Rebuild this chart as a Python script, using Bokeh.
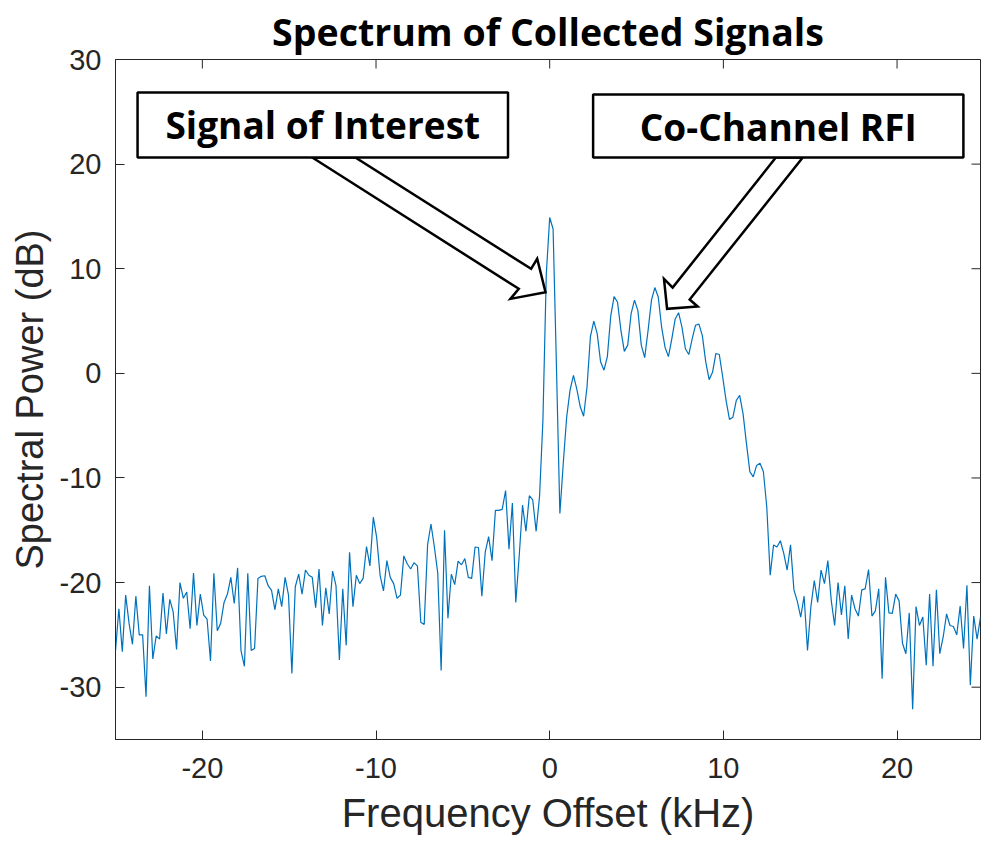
from bokeh.plotting import figure
from bokeh.models import Range1d, FixedTicker
from bokeh.embed import file_html
from bokeh.resources import INLINE
from bokeh.core.properties import value

# ---------------- data ----------------
f_start_khz = -25.0
f_step_khz = 50.0 / 256

power_db = [
    -26.5, -22.5, -26.6, -21.2, -23.9, -25.9, -21.3, -25.0, -25.0, -30.9,
    -20.3, -27.3, -25.1, -25.4, -21.0, -24.9, -21.6, -22.8, -26.4, -20.0,
    -21.5, -20.9, -24.4, -19.1, -24.1, -21.1, -23.1, -23.5, -27.5, -19.1,
    -24.6, -23.9, -21.9, -21.1, -19.5, -22.0, -18.6, -26.5, -28.0, -19.1,
    -26.5, -26.3, -19.6,
    -19.4, -19.35, -20.3, -20.75, -22.6, -20.6, -22.3, -19.5, -21.2, -28.7,
    -20.4, -19.2, -21.1, -18.8, -19.3, -19.5, -22.4, -18.7, -24.1, -20.5,
    -23.0, -18.9, -20.3, -27.4, -20.6, -26.0, -17.1, -22.3, -19.3, -20.1,
    -19.6, -16.55, -18.4, -13.75, -15.7, -19.3, -20.8, -17.9, -19.5, -20.1,
    -21.5, -21.2,
    -17.45, -18.2, -18.7, -18.1, -18.4, -23.8, -24.0, -16.4, -14.4, -16.6,
    -19.1, -28.4, -15.0, -23.4, -19.2, -20.2, -17.95, -18.3, -17.7, -19.5,
    -19.6, -16.6, -16.65, -21.3, -17.1, -15.6, -17.9, -13.1, -13.1, -13.0,
    -11.2, -16.8, -12.4, -21.9, -17.5, -12.6, -15.1, -11.7, -12.1, -15.1,
    -11.8, -4.5,
    9.5, 14.9, 13.8, 0.5, -13.4, -8.6, -4.2, -1.6, -0.2, -1.5,
    -3.2, -4.1, -1.3, 3.5, 5.0, 3.8, 1.1, 0.3, 1.6, 5.5,
    7.35, 6.8, 4.1, 2.1, 2.7, 5.7, 7.0, 6.0, 2.7, 1.5,
    4.1, 7.0, 8.2, 7.3, 4.4, 2.5, 1.6, 3.3, 5.2, 5.8,
    4.4,
    2.35, 1.8, 3.3, 4.6, 4.7, 3.6, 1.1, -0.6, 0.1, 1.9,
    1.8, -0.35, -2.6, -4.4, -4.2, -2.6, -2.1, -3.85, -6.7, -9.4,
    -9.9, -8.8, -8.6, -9.4, -12.8, -19.3, -16.4, -16.6, -16.0, -17.2,
    -18.8, -16.4, -20.7, -21.8, -23.3, -21.3, -26.5, -22.3, -19.8, -21.9,
    -18.8, -20.1,
    -17.9, -21.7, -24.1, -20.0, -23.1, -20.3, -25.4, -21.2, -22.5, -23.2,
    -20.7, -20.6, -18.75, -23.2, -22.7, -20.6, -29.2, -19.5, -22.9, -22.95,
    -21.1, -21.75, -25.8, -26.8, -22.9, -32.1, -22.3, -24.1, -23.3, -27.9,
    -21.1, -28.0, -20.7, -26.8, -25.2, -23.0, -24.1, -24.2, -25.0, -22.25,
    -26.3, -20.25, -29.8, -23.2, -25.4, -23.3,
]
freq_khz = [f_start_khz + i * f_step_khz for i in range(len(power_db))]

x_ticks = [-20, -10, 0, 10, 20]
x_tick_labels = ["-20", "-10", "0", "10", "20"]
y_ticks = [-30, -20, -10, 0, 10, 20, 30]
y_tick_labels = ["-30", "-20", "-10", "0", "10", "20", "30"]
y_min, y_max = -35, 30

title_text = "Spectrum of Collected Signals"
x_label = "Frequency Offset (kHz)"
y_label = "Spectral Power (dB)"

# annotations (data coordinates)
ann_texts = ["Signal of Interest", "Co-Channel RFI"]
box_left = [-23.73, 2.50]
box_right = [-2.40, 23.82]
box_top = [26.85, 26.65]
box_bottom = [20.63, 20.63]
arrow1_x = [-13.67, -1.78, -2.26, -0.24, -0.72, -1.07, -11.19]
arrow1_y = [20.63, 8.08, 7.12, 7.75, 10.95, 9.99, 20.63]
arrow2_x = [13.02, 7.08, 6.58, 6.76, 8.52, 8.06, 14.57]
arrow2_y = [20.63, 8.20, 9.03, 6.17, 6.39, 7.06, 20.63]

# ---------------- figure ----------------
axis_color = "#262626"
tick_font = "Liberation Sans"
frame_w, frame_h = 865, 680
tick_len_px = 9

x_lo, x_hi = f_start_khz, freq_khz[-1]
px_per_khz = frame_w / (x_hi - x_lo)
px_per_db = frame_h / (y_max - y_min)

p = figure(
    frame_width=frame_w, frame_height=frame_h,
    min_border_left=115, min_border_right=2, min_border_top=59, min_border_bottom=107,
    x_range=Range1d(x_lo, x_hi), y_range=Range1d(y_min, y_max),
    output_backend="svg", toolbar_location=None, title=title_text,
)
p.title.align = "center"
p.title.text_font = "Open Sans"
p.title.text_font_style = "bold"
p.title.text_font_size = "37.5px"
p.title.text_color = "black"
p.title.standoff = 6

p.xgrid.visible = False
p.ygrid.visible = False
p.outline_line_color = axis_color
p.outline_line_width = 1
p.background_fill_color = "white"
p.border_fill_color = "white"

for ax, ticks, labels in ((p.xaxis[0], x_ticks, x_tick_labels),
                          (p.yaxis[0], y_ticks, y_tick_labels)):
    ax.ticker = FixedTicker(ticks=ticks)
    ax.major_label_overrides = {t: l for t, l in zip(ticks, labels)}
    ax.axis_line_color = axis_color
    ax.axis_line_width = 1
    ax.major_tick_line_color = axis_color
    ax.major_tick_in = tick_len_px
    ax.major_tick_out = 0
    ax.minor_tick_line_color = None
    ax.major_label_text_color = axis_color
    ax.major_label_text_font = tick_font
    ax.major_label_text_font_size = "29px"
    ax.axis_label_text_font = tick_font
    ax.axis_label_text_font_style = "normal"
    ax.axis_label_text_color = axis_color

p.xaxis[0].major_label_standoff = 18
p.yaxis[0].major_label_standoff = 14
p.xaxis[0].axis_label = x_label
p.yaxis[0].axis_label = y_label
p.xaxis[0].axis_label_text_font_size = "40px"
p.yaxis[0].axis_label_text_font_size = "38px"
p.xaxis[0].axis_label_standoff = 10
p.yaxis[0].axis_label_standoff = 6

# inward ticks on the top and right edges of the box
dy_tick = tick_len_px / px_per_db
dx_tick = tick_len_px / px_per_khz
p.segment(x0=x_ticks, y0=[y_max] * len(x_ticks), x1=x_ticks,
          y1=[y_max - dy_tick] * len(x_ticks), line_color=axis_color, line_width=1)
p.segment(x0=[x_hi] * len(y_ticks), y0=y_ticks, x1=[x_hi - dx_tick] * len(y_ticks),
          y1=y_ticks, line_color=axis_color, line_width=1)

# signal
p.line(freq_khz, power_db, line_color="#0072BD", line_width=1.2)

# arrows
for ax_, ay_ in ((arrow1_x, arrow1_y), (arrow2_x, arrow2_y)):
    p.patch(ax_, ay_, fill_color="white", line_color="black", line_width=2.5,
            line_join="miter")

# boxes + texts
p.quad(left=box_left, right=box_right, top=box_top, bottom=box_bottom,
       fill_color="white", line_color="black", line_width=2.5)
p.text(x=[(l + r) / 2 for l, r in zip(box_left, box_right)],
       y=[(t + b) / 2 for t, b in zip(box_top, box_bottom)],
       text=ann_texts, text_font=value("Open Sans"), text_font_style="bold",
       text_font_size="37px", text_align="center", text_baseline="middle",
       text_color="black")

open("out.html", "w").write(file_html(p, INLINE))
